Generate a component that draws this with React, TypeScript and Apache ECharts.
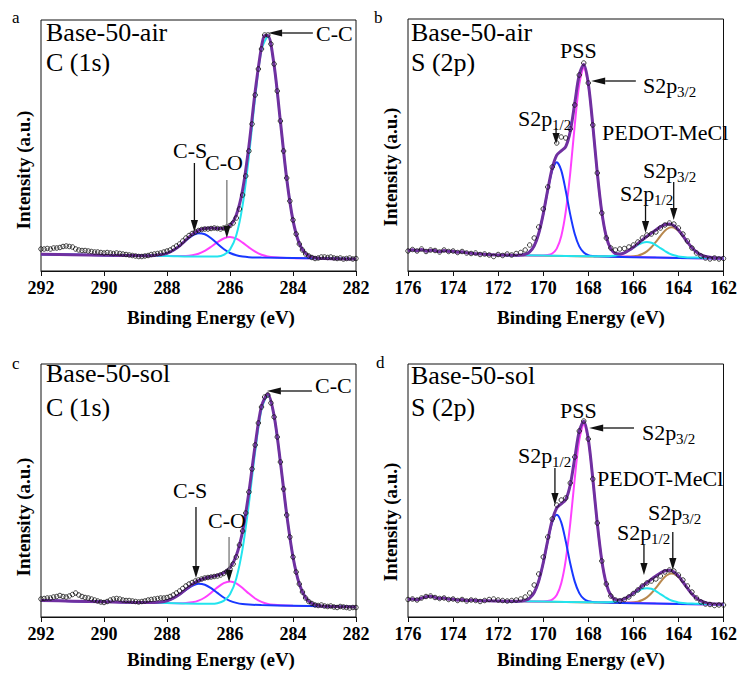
import React, { useEffect, useRef } from "react";
import * as echarts from "echarts";

// ---------- axes ----------
const C1S_RANGE = [282, 292];
const S2P_RANGE = [162, 176];
const X_TICK_INTERVAL = 2;
const C1S_SCAN_START = 292;
const C1S_SCAN_STEP = 0.1;
const S2P_SCAN_START = 176;
const S2P_SCAN_STEP = 0.2;

// ---------- measured points (a.u.), scan from high to low binding energy ----------
const A_SCAN = [
  22, 22, 22.5, 22, 23, 23, 23.5, 24.5, 25, 24.5,
  24, 22, 21, 20.5, 20.5, 20, 19.5, 19, 19, 18.5,
  18, 18.5, 18, 17.5, 18, 17.5, 17, 16.5, 16, 15.5,
  15, 14.5, 14.5, 15, 15.5, 16.5, 17, 17.5, 18, 19,
  20, 21, 23, 25, 27, 30, 33, 35.5, 37.5, 39,
  40.5, 41.5, 42, 42, 42.5, 43, 42.5, 42, 43, 44,
  45.5, 48, 53, 62, 76, 95, 120, 147, 176, 202,
  222, 236, 236, 227, 207, 180, 150, 120, 93, 70,
  51, 37, 27, 21, 17, 15, 13.5, 12.5, 13, 14,
  14, 13.5, 14, 13, 12.5, 13, 12, 12.5, 13, 12,
  12.5,
];
const C_SCAN = [
  18, 18.5, 19, 19, 20, 20.5, 21.5, 20.5, 20, 21,
  22.5, 24, 22, 20.5, 19.5, 19, 18, 17, 16, 15,
  14.5, 15.5, 17, 18, 18.5, 18, 17, 16.5, 16.5, 16,
  15.5, 15, 15.5, 16, 17, 17.5, 18, 18.5, 19, 19,
  19.5, 20.5, 22, 24, 26, 28.5, 31, 33, 34.5, 36,
  37, 38, 39, 39.5, 40, 40.5, 41, 42, 43.5, 45.5,
  48, 53, 60, 72, 86, 104, 125, 148, 172, 194,
  210, 220, 222, 214, 200, 180, 155, 128, 102, 80,
  60, 45, 33, 25, 19, 15.5, 13.5, 12, 11.5, 12,
  11, 10.5, 11, 10, 9.5, 10.5, 10, 9.5, 9, 9.5,
  9.5,
];
const B_SCAN = [
  20, 21.5, 20, 22, 19.5, 21, 20.5, 19, 21, 19.5,
  20, 18.5, 19.5, 18, 17.5, 18, 16.5, 17, 16, 14.5,
  16.5, 15.5, 17, 16, 17.5, 18.5, 21, 26, 33, 44,
  62, 84, 104, 128, 134, 133, 142, 166, 196, 208,
  188, 146, 98, 58, 33, 23, 21, 22, 22.5, 24,
  26, 29, 33, 36, 37, 39, 43, 46, 48, 47,
  43, 37, 30, 23, 18, 15, 13, 12, 13, 12,
  12.5,
];
const D_SCAN = [
  17.5, 18, 17, 19, 20.5, 21, 19.5, 18.5, 19, 17.5,
  18, 16.5, 17.5, 16, 17, 16.5, 15.5, 16.5, 17.5, 18,
  17, 16.5, 16, 16.5, 17, 18, 20, 24, 32, 43,
  60, 80, 98, 112, 117, 119, 134, 160, 186, 196,
  178, 138, 94, 56, 33, 21, 17, 16, 17.5, 20,
  23.5, 27, 31, 34, 36, 38, 41, 45, 47, 46,
  42, 37, 31, 25, 19, 15, 13, 12.5, 11.5, 12,
  12,
];

// ---------- fitted components [BE, intensity] ----------
const A_CC = [[292,16.8],[290,15.8],[288,14.9],[287,14.4],[286.4,14.6],[286.2,16.1],[286.0,21.4],[285.8,35.7],[285.6,65.7],[285.4,114.6],[285.2,173.8],[285.0,221.4],[284.8,234.3],[284.6,205.2],[284.4,149.5],[284.2,92.3],[284.0,50.6],[283.8,27.4],[283.6,17.4],[283.4,13.8],[283.2,12.8],[283,12.5],[282,12]];
const A_CS = [[292,16.8],[290,15.8],[288.6,15.2],[288.4,15.5],[288.2,16.2],[288.0,17.7],[287.8,20.7],[287.6,25.1],[287.4,30.5],[287.2,35.3],[287.0,37.8],[286.8,36.8],[286.6,32.8],[286.4,27.2],[286.2,22.0],[286.0,18.0],[285.8,15.7],[285.6,14.4],[285.4,13.8],[285.0,13.4],[284,12.9],[283,12.5],[282,12]];
const A_CO = [[292,16.8],[290,15.8],[288,14.9],[287.4,15.1],[287.2,15.8],[287.0,17.3],[286.8,20.1],[286.6,24.2],[286.4,28.8],[286.2,32.5],[286.0,33.9],[285.8,32.3],[285.6,28.4],[285.4,23.6],[285.2,19.3],[285.0,16.3],[284.8,14.6],[284.6,13.7],[284.2,13.0],[283,12.5],[282,12]];
const A_ENV = [[292,16.8],[291,16.3],[290,15.8],[289,15.4],[288.6,15.2],[288.4,15.5],[288.2,16.2],[288.0,17.7],[287.8,20.7],[287.6,25.1],[287.4,31.0],[287.2,36.6],[287.0,40.7],[286.8,42.6],[286.6,42.9],[286.4,42.4],[286.2,42.6],[286.0,45.5],[285.8,56.1],[285.6,81.1],[285.4,124.8],[285.2,179.7],[285.0,224.3],[284.9,235.4],[284.8,235.6],[284.6,205.7],[284.4,149.6],[284.2,92.3],[284.0,50.6],[283.8,27.4],[283.6,17.4],[283.4,13.8],[283.2,12.8],[283.0,12.5],[282.5,12.2],[282,12]];

const C_CC = [[292,16.5],[290,15.2],[288,13.9],[287,13.25],[286.6,13.2],[286.4,13.8],[286.2,16.1],[286.0,22.8],[285.8,38.6],[285.6,68.4],[285.4,113.4],[285.2,165.6],[285.0,207.7],[284.8,221.8],[284.6,200.7],[284.4,154.8],[284.2,102.6],[284.0,60.1],[283.8,33.1],[283.6,19.3],[283.4,13.5],[283.2,11.5],[283.0,10.65],[282,10]];
const C_CS = [[292,16.5],[290,15.2],[288.6,14.4],[288.4,14.5],[288.2,15.0],[288.0,16.3],[287.8,18.8],[287.6,22.5],[287.4,27.1],[287.2,31.1],[287.0,33.2],[286.8,32.3],[286.6,28.8],[286.4,24.1],[286.2,19.5],[286.0,16.1],[285.8,14.1],[285.6,12.9],[285.4,12.4],[285.0,11.95],[284,11.3],[283,10.65],[282,10]];
const C_CO = [[292,16.5],[290,15.2],[288,13.9],[287.6,13.8],[287.4,14.0],[287.2,14.7],[287.0,16.4],[286.8,19.5],[286.6,24.2],[286.4,29.6],[286.2,33.9],[286.0,35.6],[285.8,33.7],[285.6,29.0],[285.4,23.4],[285.2,18.5],[285.0,15.1],[284.8,13.1],[284.6,12.2],[284.4,11.7],[284,11.3],[283,10.65],[282,10]];
const C_ENV = [[292,16.5],[291,15.85],[290,15.2],[289,14.55],[288.6,14.4],[288.4,14.5],[288.2,15.0],[288.0,16.3],[287.8,18.8],[287.6,22.7],[287.4,27.6],[287.2,32.4],[287.0,36.3],[286.8,38.7],[286.6,40.2],[286.4,41.7],[286.2,44.1],[286.0,49.3],[285.8,61.4],[285.6,85.7],[285.4,124.8],[285.2,172.0],[285.0,210.8],[284.8,223.1],[284.6,201.2],[284.4,154.9],[284.2,102.6],[284.0,60.1],[283.8,33.1],[283.6,19.3],[283.4,13.5],[283.2,11.5],[283.0,10.7],[282.5,10.3],[282,10]];

const B_PSS32 = [[172,16.0],[171,15.7],[170.0,15.5],[169.8,15.9],[169.6,17.5],[169.4,22.4],[169.2,34.7],[169.0,59.3],[168.8,98.2],[168.6,145.9],[168.4,186.6],[168.2,202.9],[168.0,186.5],[167.8,145.6],[167.6,97.9],[167.4,58.8],[167.2,34.1],[167.0,21.7],[166.8,16.6],[166.6,15.0],[166.4,14.4],[165,13.5],[164,13.1],[162,12.5]];
const B_PSS12 = [[172,16.0],[171.2,15.8],[171.0,16.0],[170.8,16.7],[170.6,19.2],[170.4,25.2],[170.2,37.5],[170.0,56.8],[169.8,80.4],[169.6,100.7],[169.4,108.7],[169.2,100.6],[169.0,80.2],[168.8,56.4],[168.6,37.0],[168.4,24.6],[168.2,18.5],[168.0,15.9],[167.8,15.0],[167.6,14.7],[167,14.3],[165,13.4],[164,13.0],[162,12.4]];
const B_PED12 = [[172,16.0],[170,15.4],[168,14.8],[167.4,14.7],[167.2,14.7],[167.0,14.9],[166.8,15.4],[166.6,16.4],[166.4,18.0],[166.2,20.5],[166.0,23.3],[165.8,26.1],[165.6,28.3],[165.4,29.0],[165.2,28.2],[165.0,25.9],[164.8,22.9],[164.6,20.0],[164.4,17.4],[164.2,15.7],[164.0,14.6],[163.8,14.0],[163.6,13.6],[163.4,13.5],[163,13.3],[162,13.0]];
const B_PED32 = [[172,15.8],[170,15.2],[168,14.6],[166.4,14.3],[166.2,14.5],[166.0,14.7],[165.8,15.4],[165.6,17.0],[165.4,19.6],[165.2,23.7],[165.0,29.1],[164.8,35.0],[164.6,40.3],[164.4,43.3],[164.3,43.7],[164.2,43.3],[164.0,40.1],[163.8,34.7],[163.6,28.7],[163.4,23.1],[163.2,19.0],[163.0,16.2],[162.8,14.5],[162.6,13.7],[162.4,13.3],[162.2,13.1],[162,13.0]];
const B_ENV = [[176,20],[175.8,21.3],[175.6,20.2],[175.4,21.6],[175.2,19.8],[175.0,20.8],[174.8,20.4],[174.6,19.3],[174.4,20.6],[174.2,19.6],[174.0,19.8],[173.8,18.8],[173.6,19.2],[173.4,18.2],[173.0,17.2],[172.5,16.5],[172,16.1],[171.5,15.9],[171.2,15.8],[171.0,16.0],[170.8,16.7],[170.6,19.2],[170.4,25.2],[170.2,37.5],[170.0,56.9],[169.8,81.0],[169.6,102.9],[169.4,115.9],[169.2,120.1],[169.0,124.4],[168.8,139.6],[168.6,167.9],[168.4,196.3],[168.2,206.5],[168.0,187.6],[167.8,145.9],[167.6,97.9],[167.4,58.9],[167.2,34.2],[167.0,22.1],[166.8,17.6],[166.6,17.0],[166.4,18.2],[166.2,20.7],[166.0,23.8],[165.8,27.4],[165.6,31.2],[165.4,34.6],[165.2,37.9],[165.0,41.1],[164.8,44.1],[164.6,46.5],[164.4,47.0],[164.2,45.3],[164.0,41.1],[163.8,35.1],[163.6,28.9],[163.4,23.2],[163.2,19.0],[163.0,16.2],[162.8,14.5],[162.6,13.7],[162.4,13.3],[162.2,13.1],[162,13.0]];

const D_PSS32 = [[172,16.0],[171,15.7],[170.0,15.5],[169.8,15.9],[169.6,17.4],[169.4,22.0],[169.2,33.7],[169.0,56.8],[168.8,93.6],[168.6,138.5],[168.4,177.0],[168.2,192.4],[168.0,176.9],[167.8,138.2],[167.6,93.3],[167.4,56.3],[167.2,33.1],[167.0,21.3],[166.8,16.5],[166.6,14.9],[166.4,14.4],[165,13.5],[164,13.1],[162,12.5]];
const D_PSS12 = [[172,16.0],[171.2,15.8],[171.0,16.0],[170.8,16.6],[170.6,18.9],[170.4,24.5],[170.2,35.9],[170.0,53.9],[169.8,75.9],[169.6,94.7],[169.4,102.2],[169.2,94.6],[169.0,75.7],[168.8,53.5],[168.6,35.4],[168.4,23.9],[168.2,18.2],[168.0,15.8],[167.8,15.0],[167.6,14.7],[167,14.3],[165,13.4],[164,13.0],[162,12.4]];
const D_PED12 = [[172,16.0],[170,15.4],[168,14.8],[167.4,14.7],[167.2,14.7],[167.0,14.9],[166.8,15.4],[166.6,16.4],[166.4,18.0],[166.2,20.5],[166.0,23.3],[165.8,26.1],[165.6,28.3],[165.4,28.8],[165.2,28.2],[165.0,25.9],[164.8,22.9],[164.6,20.0],[164.4,17.4],[164.2,15.7],[164.0,14.6],[163.8,14.0],[163.6,13.6],[163.4,13.5],[163,13.2],[162,12.8]];
const D_PED32 = [[172,15.8],[170,15.2],[168,14.6],[166.4,14.3],[166.2,14.5],[166.0,14.7],[165.8,15.4],[165.6,17.0],[165.4,19.6],[165.2,23.7],[165.0,29.1],[164.8,35.0],[164.6,40.3],[164.4,43.1],[164.3,43.5],[164.2,43.1],[164.0,40.0],[163.8,34.6],[163.6,28.6],[163.4,23.0],[163.2,18.9],[163.0,16.1],[162.8,14.4],[162.6,13.5],[162.4,13.1],[162.2,12.9],[162,12.8]];
const D_ENV = [[176,17.5],[175.8,17.9],[175.6,17.2],[175.4,18.8],[175.2,20.2],[175.0,20.8],[174.8,19.6],[174.6,18.6],[174.4,18.9],[174.2,17.7],[174.0,18.0],[173.8,16.8],[173.6,17.4],[173.4,16.3],[173.2,16.9],[173.0,16.6],[172.6,16.3],[172.2,16.1],[171.8,15.9],[171.4,15.85],[171.2,15.8],[171.0,16.0],[170.8,16.6],[170.6,18.9],[170.4,24.5],[170.2,35.9],[170.0,54.0],[169.8,76.5],[169.6,96.8],[169.4,109.0],[169.2,113.1],[169.0,117.4],[168.8,132.1],[168.6,158.9],[168.4,186.0],[168.2,195.7],[168.0,177.9],[167.8,138.5],[167.6,93.3],[167.4,56.4],[167.2,33.2],[167.0,21.7],[166.8,17.5],[166.6,17.0],[166.4,18.2],[166.2,20.7],[166.0,23.8],[165.8,27.4],[165.6,31.2],[165.4,34.4],[165.2,37.8],[165.0,41.0],[164.8,44.0],[164.6,46.3],[164.4,46.8],[164.2,45.1],[164.0,41.0],[163.8,35.0],[163.6,28.8],[163.4,23.1],[163.2,18.9],[163.0,16.1],[162.8,14.4],[162.6,13.5],[162.4,13.1],[162.2,12.9],[162,12.8]];

// ---------- labels ----------
const PANEL_LETTERS = ["a", "b", "c", "d"];
const SAMPLE_NAMES = ["Base-50-air", "Base-50-air", "Base-50-sol", "Base-50-sol"];
const CORE_LEVELS = ["C (1s)", "S (2p)", "C (1s)", "S (2p)"];
const X_NAME = "Binding Energy (eV)";
const Y_NAME = "Intensity (a.u.)";

// arrows in data coords: [grid, E_tail, I_tail, E_tip, I_tip, headLen, gray]
const ARROWS = [
  [0, 283.37, 238, 284.79, 238, 14, 0],
  [0, 287.13, 108, 287.13, 39, 12, 0],
  [0, 286.1, 91, 286.1, 33, 12, 1],
  [1, 165.89, 190, 167.87, 190, 14, 0],
  [1, 169.43, 143, 169.43, 127, 11, 0],
  [1, 164.21, 89, 164.21, 51, 12, 0],
  [1, 165.46, 66, 165.46, 38, 12, 0],
  [2, 283.4, 226, 284.83, 226, 14, 0],
  [2, 287.08, 110, 287.08, 39, 12, 0],
  [2, 286.03, 80, 286.03, 35, 12, 1],
  [3, 165.97, 189, 167.96, 189, 14, 0],
  [3, 169.48, 149, 169.48, 112, 12, 0],
  [3, 164.25, 85, 164.25, 47, 12, 0],
  [3, 165.53, 72, 165.53, 42, 12, 0],
];

const SERIF = "Liberation Serif";
const COL_ENV = "#7030A0";
const COL_CYAN = "#22E4EE";
const COL_MAG = "#FF40FF";
const COL_BLUE = "#1838FF";
const COL_BROWN = "#B8884E";

const GRIDS = [
  { left: 41, top: 20, width: 315, height: 251 },
  { left: 408, top: 19, width: 316, height: 252 },
  { left: 41, top: 364, width: 315, height: 253 },
  { left: 408, top: 364, width: 316, height: 253 },
];

function scanPoints(values: number[], start: number, step: number) {
  return values.map((v, i) => [Number((start - i * step).toFixed(2)), v]);
}

export default function App() {
  const ref = useRef<HTMLDivElement>(null);
  useEffect(() => {
    document.body.style.margin = "0";
    const chart = echarts.init(ref.current!, undefined, { renderer: "svg" });

    const panels = [
      { range: C1S_RANGE, scan: scanPoints(A_SCAN, C1S_SCAN_START, C1S_SCAN_STEP), comps: [[A_CO, COL_MAG], [A_CS, COL_BLUE], [A_CC, COL_CYAN]], env: A_ENV },
      { range: S2P_RANGE, scan: scanPoints(B_SCAN, S2P_SCAN_START, S2P_SCAN_STEP), comps: [[B_PED32, COL_BROWN], [B_PSS32, COL_MAG], [B_PSS12, COL_BLUE], [B_PED12, COL_CYAN]], env: B_ENV },
      { range: C1S_RANGE, scan: scanPoints(C_SCAN, C1S_SCAN_START, C1S_SCAN_STEP), comps: [[C_CO, COL_MAG], [C_CS, COL_BLUE], [C_CC, COL_CYAN]], env: C_ENV },
      { range: S2P_RANGE, scan: scanPoints(D_SCAN, S2P_SCAN_START, S2P_SCAN_STEP), comps: [[D_PED32, COL_BROWN], [D_PSS32, COL_MAG], [D_PSS12, COL_BLUE], [D_PED12, COL_CYAN]], env: D_ENV },
    ];

    const series: any[] = [];
    panels.forEach((p, gi) => {
      p.comps.forEach(([data, color]: any) => {
        series.push({
          type: "line", xAxisIndex: gi, yAxisIndex: gi, data, smooth: 0.3,
          showSymbol: false, symbol: "none", lineStyle: { color, width: 2 }, z: 2, silent: true,
        });
      });
      series.push({
        type: "line", xAxisIndex: gi, yAxisIndex: gi, data: p.env, smooth: 0.3,
        showSymbol: false, symbol: "none", lineStyle: { color: COL_ENV, width: 3 }, z: 3, silent: true,
      });
      series.push({
        type: "scatter", xAxisIndex: gi, yAxisIndex: gi, data: p.scan, symbol: "circle", symbolSize: 4.5,
        itemStyle: { color: "rgba(255,255,255,0)", borderColor: "#111", borderWidth: 1 }, z: 4, silent: true,
      });
    });

    const option: any = {
      animation: false,
      backgroundColor: "#fff",
      textStyle: { fontFamily: SERIF },
      grid: GRIDS.map((g) => ({ ...g, show: true, borderColor: "#111", borderWidth: 1, backgroundColor: "transparent", containLabel: false })),
      xAxis: panels.map((p, gi) => ({
        type: "value", gridIndex: gi, min: p.range[0], max: p.range[1], interval: X_TICK_INTERVAL, inverse: true,
        axisLine: { show: true, lineStyle: { color: "#111", width: 1 } },
        axisTick: { show: true, length: 5, lineStyle: { color: "#111" } },
        axisLabel: { show: true, margin: 8, fontFamily: SERIF, fontWeight: "bold", fontSize: 18, color: "#000", showMinLabel: true, showMaxLabel: true },
        splitLine: { show: false },
      })),
      yAxis: GRIDS.map((g, gi) => ({
        type: "value", gridIndex: gi, min: 0, max: g.height,
        axisLine: { show: false }, axisTick: { show: false }, axisLabel: { show: false }, splitLine: { show: false },
      })),
      series,
    };
    chart.setOption(option);

    const T = (x: number, y: number, text: string, size: number, extra: any = {}) => ({
      type: "text", x, y, z: 100, silent: true,
      style: { text, fontSize: size, fontFamily: SERIF, fill: "#000", textAlign: extra.align || "left", align: extra.align || "left", textVerticalAlign: "middle", verticalAlign: "middle", fontWeight: extra.bold ? "bold" : "normal" },
      rotation: extra.rotation || 0,
    });
    const SUB = (x: number, y: number, sub: string) => [T(x, y, "S2p", 22), T(x + 34, y + 7, sub, 15)];

    const g: any[] = [];
    g.push(T(12, 17, PANEL_LETTERS[0], 17), T(374, 17, PANEL_LETTERS[1], 17), T(12, 363, PANEL_LETTERS[2], 17), T(376, 362, PANEL_LETTERS[3], 17));
    g.push(T(46, 32, SAMPLE_NAMES[0], 26), T(46, 62, CORE_LEVELS[0], 26));
    g.push(T(411, 32, SAMPLE_NAMES[1], 26), T(411, 62, CORE_LEVELS[1], 26));
    g.push(T(46, 373, SAMPLE_NAMES[2], 26), T(46, 407, CORE_LEVELS[2], 26));
    g.push(T(411, 375, SAMPLE_NAMES[3], 26), T(411, 407, CORE_LEVELS[3], 26));
    g.push(T(211, 317, X_NAME, 19, { align: "center", bold: true }), T(581, 317, X_NAME, 19, { align: "center", bold: true }));
    g.push(T(211, 659, X_NAME, 19, { align: "center", bold: true }), T(581, 659, X_NAME, 19, { align: "center", bold: true }));
    g.push(T(23, 170, Y_NAME, 19, { align: "center", bold: true, rotation: Math.PI / 2 }));
    g.push(T(390, 167, Y_NAME, 19, { align: "center", bold: true, rotation: Math.PI / 2 }));
    g.push(T(23, 517, Y_NAME, 19, { align: "center", bold: true, rotation: Math.PI / 2 }));
    g.push(T(390, 522, Y_NAME, 19, { align: "center", bold: true, rotation: Math.PI / 2 }));
    g.push(T(316, 33, "C-C", 22), T(173, 150, "C-S", 22), T(205, 162, "C-O", 22));
    g.push(T(315, 385, "C-C", 22), T(173, 490, "C-S", 22), T(208, 520, "C-O", 22));
    g.push(T(560, 50, "PSS", 22), T(602, 132, "PEDOT-MeCl", 22));
    g.push(...SUB(643, 85, "3/2"), ...SUB(518, 118, "1/2"), ...SUB(643, 170, "3/2"), ...SUB(620, 193, "1/2"));
    g.push(T(560, 410, "PSS", 22), T(597, 478, "PEDOT-MeCl", 22));
    g.push(...SUB(642, 432, "3/2"), ...SUB(518, 455, "1/2"), ...SUB(648, 512, "3/2"), ...SUB(617, 532, "1/2"));

    ARROWS.forEach(([gi, e1, i1, e2, i2, hl, gray]) => {
      const p1 = chart.convertToPixel({ gridIndex: gi } as any, [e1, i1]) as number[];
      const p2 = chart.convertToPixel({ gridIndex: gi } as any, [e2, i2]) as number[];
      const dx = p2[0] - p1[0], dy = p2[1] - p1[1];
      const len = Math.hypot(dx, dy) || 1;
      const ux = dx / len, uy = dy / len;
      const bx = p2[0] - ux * hl, by = p2[1] - uy * hl;
      const nx = -uy * 3.6, ny = ux * 3.6;
      g.push({ type: "line", z: 101, silent: true, shape: { x1: p1[0], y1: p1[1], x2: bx, y2: by }, style: { stroke: gray ? "#777" : "#111", lineWidth: 1.3 } });
      g.push({ type: "polygon", z: 101, silent: true, shape: { points: [[p2[0], p2[1]], [bx + nx, by + ny], [bx - nx, by - ny]] }, style: { fill: "#111" } });
    });

    chart.setOption({ graphic: g });
    return () => chart.dispose();
  }, []);
  return <div ref={ref} style={{ width: 740, height: 675 }} />;
}
